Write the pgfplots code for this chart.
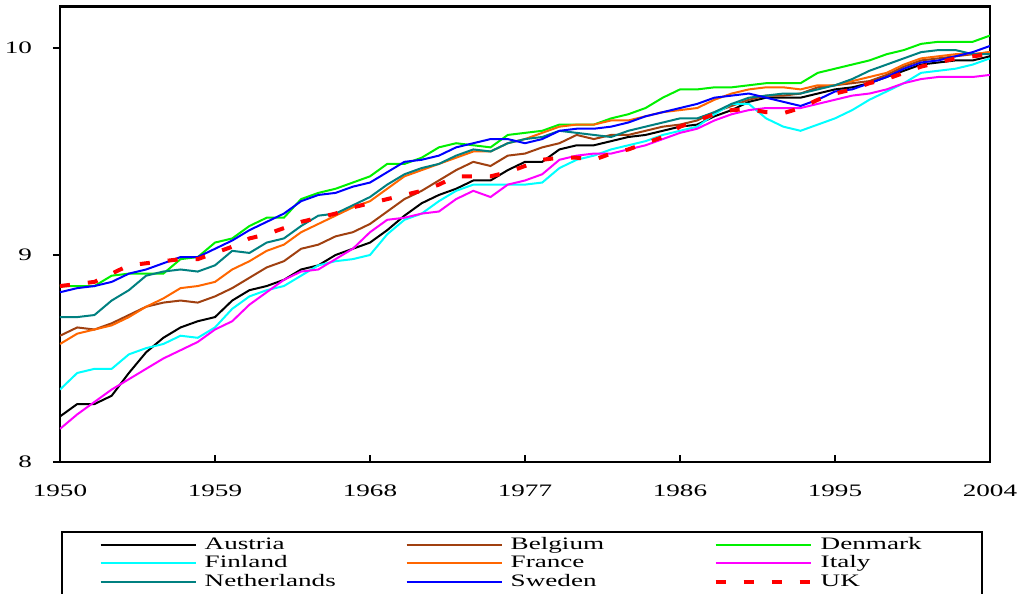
\documentclass[border=0pt]{standalone}
\usepackage{fontspec}
\setmainfont{Liberation Serif}[FakeStretch=1.55]
\usepackage{pgfplots}
\pgfplotsset{compat=1.18}
\usepackage{pgfplotstable}

\definecolor{cbel}{RGB}{160,64,16}
\definecolor{cden}{RGB}{0,240,0}
\definecolor{cfin}{RGB}{0,255,255}
\definecolor{cfra}{RGB}{255,102,0}
\definecolor{cita}{RGB}{255,0,255}
\definecolor{cnet}{RGB}{0,128,128}
\definecolor{cswe}{RGB}{0,0,255}
\definecolor{cuk}{RGB}{255,0,0}

% log GDP per capita
\pgfplotstableread{
year aut  bel  den   fin  fra  ita  net  swe   uk
1950 8.22 8.61 8.85  8.35 8.57 8.16 8.70 8.82  8.85
1951 8.28 8.65 8.85  8.43 8.62 8.23 8.70 8.84  8.86
1952 8.28 8.64 8.85  8.45 8.64 8.29 8.71 8.85  8.87
1953 8.32 8.67 8.90  8.45 8.66 8.35 8.78 8.87  8.91
1954 8.43 8.71 8.91  8.52 8.70 8.40 8.83 8.91  8.95
1955 8.53 8.75 8.91  8.55 8.75 8.45 8.90 8.93  8.96
1956 8.60 8.77 8.91  8.57 8.79 8.50 8.92 8.96  8.97
1957 8.65 8.78 8.98  8.61 8.84 8.54 8.93 8.99  8.98
1958 8.68 8.77 8.99  8.60 8.85 8.58 8.92 8.99  8.98
1959 8.70 8.80 9.06  8.65 8.87 8.64 8.95 9.03  9.01
1960 8.78 8.84 9.08  8.74 8.93 8.68 9.02 9.07  9.04
1961 8.83 8.89 9.14  8.80 8.97 8.76 9.01 9.12  9.08
1962 8.85 8.94 9.18  8.83 9.02 8.82 9.06 9.16  9.10
1963 8.88 8.97 9.18  8.85 9.05 8.88 9.08 9.20  9.13
1964 8.93 9.03 9.27  8.90 9.11 8.92 9.14 9.26  9.16
1965 8.95 9.05 9.30  8.95 9.15 8.93 9.19 9.29  9.18
1966 9.00 9.09 9.32  8.97 9.19 8.98 9.20 9.30  9.20
1967 9.03 9.11 9.35  8.98 9.23 9.03 9.24 9.33  9.23
1968 9.06 9.15 9.38  9.00 9.26 9.11 9.28 9.35  9.25
1969 9.12 9.21 9.44  9.10 9.32 9.17 9.34 9.40  9.27
1970 9.19 9.27 9.44  9.17 9.38 9.18 9.39 9.45  9.29
1971 9.25 9.31 9.47  9.20 9.41 9.20 9.42 9.46  9.31
1972 9.29 9.36 9.52  9.26 9.44 9.21 9.44 9.48  9.34
1973 9.32 9.41 9.54  9.31 9.47 9.27 9.48 9.52  9.38
1974 9.36 9.45 9.53  9.34 9.50 9.31 9.51 9.54  9.38
1975 9.36 9.43 9.52  9.34 9.50 9.28 9.50 9.56  9.38
1976 9.41 9.48 9.58  9.34 9.54 9.34 9.54 9.56  9.40
1977 9.45 9.49 9.59  9.34 9.56 9.36 9.56 9.54  9.43
1978 9.45 9.52 9.60  9.35 9.59 9.39 9.57 9.56  9.46
1979 9.51 9.54 9.63  9.42 9.62 9.46 9.60 9.60  9.47
1980 9.53 9.58 9.63  9.46 9.63 9.48 9.59 9.61  9.47
1981 9.53 9.56 9.63  9.48 9.63 9.49 9.58 9.61  9.46
1982 9.55 9.58 9.66  9.51 9.65 9.49 9.57 9.62  9.49
1983 9.57 9.58 9.68  9.53 9.65 9.51 9.60 9.64  9.51
1984 9.58 9.60 9.71  9.55 9.67 9.53 9.62 9.67  9.54
1985 9.60 9.62 9.76  9.58 9.69 9.56 9.64 9.69  9.57
1986 9.62 9.63 9.80  9.60 9.70 9.59 9.66 9.71  9.62
1987 9.63 9.65 9.80  9.62 9.71 9.61 9.66 9.73  9.65
1988 9.67 9.69 9.81  9.68 9.75 9.65 9.69 9.76  9.68
1989 9.70 9.72 9.81  9.73 9.78 9.68 9.73 9.77  9.70
1990 9.74 9.75 9.82  9.73 9.80 9.70 9.76 9.78  9.705
1991 9.76 9.77 9.83  9.66 9.81 9.71 9.77 9.76  9.69
1992 9.76 9.77 9.83  9.62 9.81 9.71 9.78 9.74  9.685
1993 9.76 9.78 9.83  9.60 9.80 9.71 9.78 9.72  9.71
1994 9.78 9.81 9.88  9.63 9.82 9.73 9.80 9.75  9.75
1995 9.80 9.82 9.90  9.66 9.82 9.75 9.82 9.79  9.78
1996 9.81 9.83 9.92  9.70 9.84 9.77 9.85 9.80  9.80
1997 9.83 9.84 9.94  9.75 9.86 9.78 9.89 9.83  9.83
1998 9.86 9.87 9.97  9.79 9.88 9.80 9.92 9.86  9.85
1999 9.89 9.91 9.99  9.83 9.92 9.83 9.95 9.90  9.88
2000 9.92 9.94 10.02 9.88 9.95 9.85 9.98 9.93  9.91
2001 9.93 9.95 10.03 9.89 9.96 9.86 9.99 9.94  9.93
2002 9.94 9.96 10.03 9.90 9.97 9.86 9.99 9.96  9.95
2003 9.94 9.97 10.03 9.92 9.97 9.86 9.97 9.98  9.96
2004 9.96 9.98 10.06 9.95 9.98 9.87 9.97 10.01 9.97
}\gdp

\begin{document}
\begin{tikzpicture}[font=\fontsize{8.75pt}{10pt}\selectfont]
\begin{axis}[
    scale only axis,
    width=465pt, height=227.7pt,
    xmin=1950, xmax=2004,
    ymin=8, ymax=10.2,
    xtick={1950,1959,...,2004},
    ytick={8,9,10},
    xtick pos=bottom, ytick pos=left,
    tick align=inside,
    major tick length=3.5pt,
    y tick style={xshift=-3.5pt},
    tick style={black, line width=0.9pt},
    axis line style={line width=1.2pt},
    /pgf/number format/assume math mode=true,
    /pgf/number format/1000 sep={},
    xticklabel style={yshift=-8pt},
    yticklabel style={xshift=-10.5pt},
    legend columns=3,
    legend cell align=left,
    legend image code/.code={\draw[#1] (0pt,0pt) -- (47.5pt,0pt);},
    legend style={
        at={(axis description cs:0.001,-0.1515)}, anchor=north west,
        draw=black, line width=0.8pt,
        inner xsep=19pt, inner ysep=2.25pt, row sep=0.75pt,
        nodes={inner sep=0pt, text width=61.5pt, align=left,
               text height=6.5pt, text depth=2pt},
        /tikz/every odd column/.append style={column sep=4pt},
        /tikz/column 2/.append style={column sep=39pt},
        /tikz/column 4/.append style={column sep=40pt},
        /tikz/column 6/.append style={column sep=0pt},
    },
]
\addplot[black, line width=1pt] table[x=year, y=aut] {\gdp};
\addplot[cbel, line width=1pt] table[x=year, y=bel] {\gdp};
\addplot[cden, line width=1pt] table[x=year, y=den] {\gdp};
\addplot[cfin, line width=1pt] table[x=year, y=fin] {\gdp};
\addplot[cfra, line width=1pt] table[x=year, y=fra] {\gdp};
\addplot[cita, line width=1pt] table[x=year, y=ita] {\gdp};
\addplot[cnet, line width=1pt] table[x=year, y=net] {\gdp};
\addplot[cswe, line width=1pt] table[x=year, y=swe] {\gdp};
\addplot[cuk, line width=2pt, dash pattern=on 5pt off 9pt] table[x=year, y=uk] {\gdp};
\legend{Austria, Belgium, Denmark, Finland, France, Italy, Netherlands, Sweden, UK}
\end{axis}
\pgfresetboundingbox
\path[use as bounding box] (-30pt,-66pt) rectangle (482.5pt,231pt);
\end{tikzpicture}
\end{document}
